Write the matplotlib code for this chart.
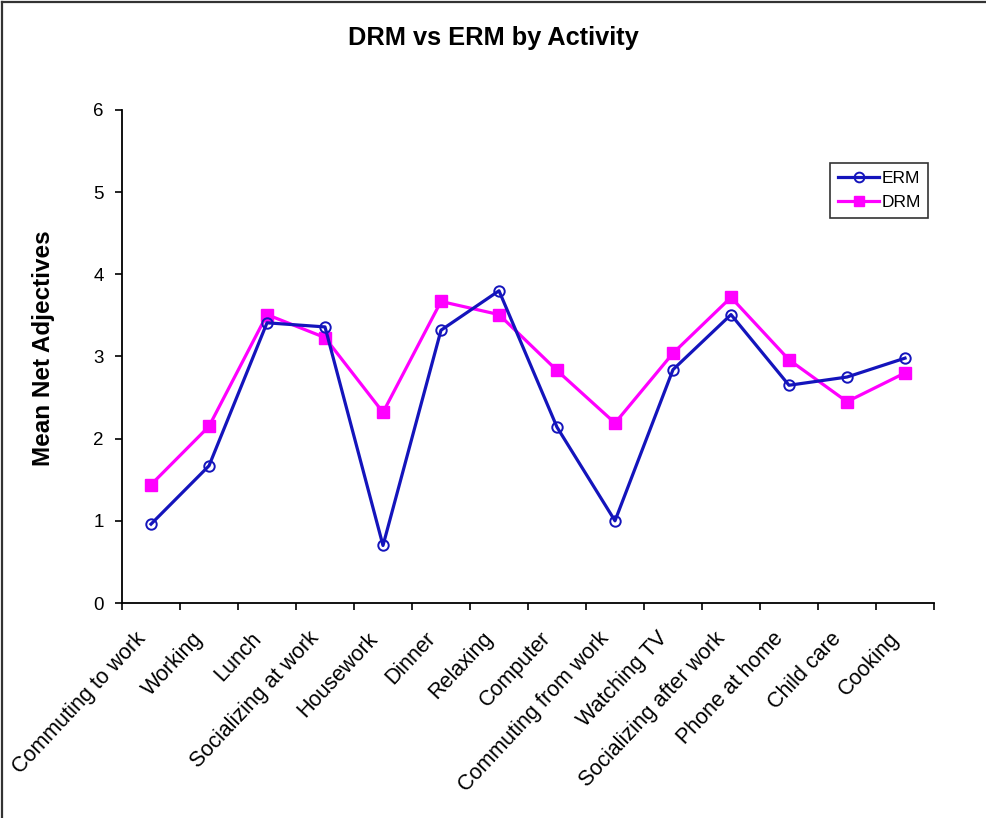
import matplotlib
matplotlib.use("Agg")
import matplotlib.pyplot as plt
from matplotlib.lines import Line2D
from matplotlib.transforms import ScaledTranslation

plt.rcParams['font.family'] = ['Liberation Sans', 'DejaVu Sans']

activities = ["Commuting to work", "Working", "Lunch", "Socializing at work",
              "Housework", "Dinner", "Relaxing", "Computer",
              "Commuting from work", "Watching TV", "Socializing after work",
              "Phone at home", "Child care", "Cooking"]
erm = [0.96, 1.67, 3.41, 3.36, 0.70, 3.32, 3.80, 2.14, 1.00, 2.84, 3.51, 2.65, 2.75, 2.98]
drm = [1.44, 2.15, 3.51, 3.23, 2.32, 3.67, 3.51, 2.83, 2.19, 3.04, 3.72, 2.96, 2.45, 2.80]
y_ticks = [0, 1, 2, 3, 4, 5, 6]

W, H = 987, 818
fig = plt.figure(figsize=(W / 100, H / 100), dpi=100)
ax = fig.add_axes([122 / W, (H - 603) / H, (934 - 122) / W, (603 - 110) / H])

erm_color = '#1414bc'
x = list(range(len(activities)))
ax.plot(x, erm, color=erm_color, lw=2.3, marker='o', ms=7.5, mfc='none',
        mec=erm_color, mew=1.4, label='ERM', zorder=3)
ax.plot(x, drm, color='#ff00ff', lw=2.3, marker='s', ms=8, mfc='#ff00ff',
        mec='#ff00ff', label='DRM', zorder=2)

ax.set_xlim(-0.5, len(activities) - 0.5)
ax.set_ylim(0, 6)
for s in ('top', 'right'):
    ax.spines[s].set_visible(False)
for s in ('left', 'bottom'):
    ax.spines[s].set_linewidth(1.3)

# category boundaries carry the tick marks, centres carry the labels
ax.set_xticks([i - 0.5 for i in range(len(activities) + 1)])
ax.set_xticklabels([])
ax.set_xticks(x, minor=True)
ax.set_xticklabels(activities, minor=True, rotation=47, ha='right', va='center',
                   rotation_mode='anchor', fontsize=15.5)
ax.tick_params(axis='x', which='major', direction='out', length=5, width=1.2)
ax.tick_params(axis='x', which='minor', length=0, pad=16)
shift = ScaledTranslation(-9 / 100, -10 / 100, fig.dpi_scale_trans)
for lbl in ax.get_xticklabels(minor=True):
    lbl.set_transform(lbl.get_transform() + shift)

ax.set_yticks(y_ticks)
ax.set_yticklabels([str(v) for v in y_ticks], fontsize=13.5)
ax.tick_params(axis='y', direction='out', length=5, width=1.2, pad=8)

ax.set_ylabel('Mean Net Adjectives', fontsize=17.5, fontweight='bold')
ax.yaxis.set_label_coords(-0.083, 0.517)

fig.text(0.5, 1 - 38 / H, 'DRM vs ERM by Activity', ha='center', va='center',
         fontsize=18.3, fontweight='bold')

leg = ax.legend(loc='upper left', bbox_to_anchor=(830 / W, 1 - 163 / H),
                bbox_transform=fig.transFigure, fontsize=12.5, frameon=True,
                fancybox=False, shadow=False, handlelength=2.4, handletextpad=0.1,
                borderpad=0.45, labelspacing=0.5, borderaxespad=0)
leg.get_frame().set_edgecolor('black')
leg.get_frame().set_linewidth(1.2)
for h in leg.legend_handles:
    h.set_markersize(7)

# chart area border along the top and left edges
fig.add_artist(Line2D([2 / W, 1], [1 - 2 / H, 1 - 2 / H], transform=fig.transFigure,
                      color='#333333', lw=1.6))
fig.add_artist(Line2D([2 / W, 2 / W], [0, 1 - 2 / H], transform=fig.transFigure,
                      color='#333333', lw=1.6))

fig.savefig('out.png', dpi=100, facecolor='white')
